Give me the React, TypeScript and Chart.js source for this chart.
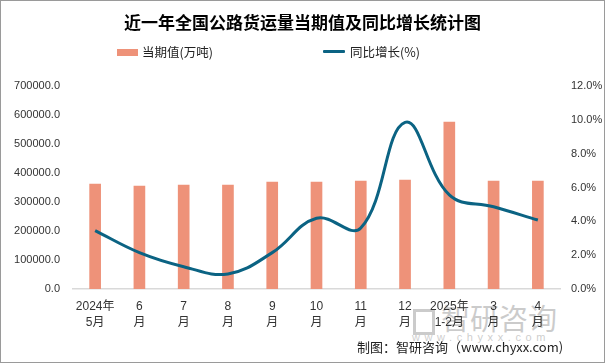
import React, { useEffect, useRef } from "react";
import { Chart, registerables } from "chart.js";

Chart.register(...registerables);

const categories: string[][] = [
  ["2024年", "5月"], ["6", "月"], ["7", "月"], ["8", "月"], ["9", "月"], ["10", "月"],
  ["11", "月"], ["12", "月"], ["2025年", "1-2月"], ["3", "月"], ["4", "月"],
];
const currentValues: number[] = [362000, 355200, 358600, 358600, 369000, 369000, 372400, 375900, 575900, 372400, 372400];
const growthValues: number[] = [3.45, 2.15, 1.32, 0.89, 2.15, 4.18, 3.6, 9.85, 5.56, 4.86, 4.08];
const leftTicks: number[] = [0, 100000, 200000, 300000, 400000, 500000, 600000, 700000];
const rightTicks: number[] = [0, 2, 4, 6, 8, 10, 12];

const TITLE = "近一年全国公路货运量当期值及同比增长统计图";
const BAR_LABEL = "当期值(万吨)";
const LINE_LABEL = "同比增长(%)";
const SOURCE = "制图：智研咨询（www.chyxx.com)";

const BAR_COLOR = "#EE9279";
const LINE_COLOR = "#0B6383";
const FONT = "'Liberation Sans', 'Noto Sans CJK SC', sans-serif";

export default function App() {
  const ref = useRef<HTMLCanvasElement | null>(null);

  useEffect(() => {
    document.body.style.margin = "0";
    const ctx = ref.current!;
    const chart = new Chart(ctx, {
      type: "bar",
      data: {
        labels: categories,
        datasets: [
          {
            type: "line",
            label: LINE_LABEL,
            data: growthValues,
            yAxisID: "y1",
            borderColor: LINE_COLOR,
            backgroundColor: LINE_COLOR,
            borderWidth: 3,
            pointRadius: 0,
            tension: 0.4,
            order: 0,
          },
          {
            type: "bar",
            label: BAR_LABEL,
            data: currentValues,
            yAxisID: "y",
            backgroundColor: BAR_COLOR,
            barThickness: 11,
            order: 1,
          },
        ],
      },
      options: {
        responsive: false,
        animation: false,
        layout: { padding: { top: 86, left: 0, right: 0, bottom: 0 } },
        plugins: { legend: { display: false }, title: { display: false }, tooltip: { enabled: false } },
        scales: {
          x: {
            grid: { display: false, drawTicks: false },
            border: { display: true, color: "#D9D9D9", width: 1.5 },
            ticks: {
              color: "#333333",
              font: { family: FONT, size: 12, lineHeight: "16px" } as any,
              padding: 10,
              maxRotation: 0,
              autoSkip: false,
            },
            afterFit: (s: any) => { s.height = 74; },
          },
          y: {
            position: "left",
            min: 0,
            max: 700000,
            afterBuildTicks: (s: any) => { s.ticks = leftTicks.map((v) => ({ value: v })); },
            grid: { display: false, drawTicks: false },
            border: { display: false },
            ticks: {
              color: "#333333",
              font: { family: FONT, size: 11 },
              padding: 13,
              callback: (v: any) => Number(v).toFixed(1),
            },
            afterFit: (s: any) => { s.width = 73; },
          },
          y1: {
            position: "right",
            min: 0,
            max: 12,
            afterBuildTicks: (s: any) => { s.ticks = rightTicks.map((v) => ({ value: v })); },
            grid: { display: false, drawTicks: false },
            border: { display: false },
            ticks: {
              color: "#333333",
              font: { family: FONT, size: 11 },
              padding: 11,
              callback: (v: any) => Number(v).toFixed(1) + "%",
            },
            afterFit: (s: any) => { s.width = 45; },
          },
        },
      },
    });
    return () => chart.destroy();
  }, []);

  return (
    <div style={{ position: "fixed", left: 0, top: 0, width: 605, height: 363, background: "#fff", fontFamily: FONT, overflow: "hidden" }}>
      <div style={{ position: "absolute", left: 413, top: 300, fontSize: 29, color: "#000", opacity: 0.2, whiteSpace: "nowrap", fontFamily: "'Noto Sans CJK SC', sans-serif", lineHeight: "34px" }}>
        <span style={{ display: "inline-block", width: 22, height: 26, border: "3px solid #000", marginRight: 6, verticalAlign: "middle", boxSizing: "border-box" }}></span>
        智研咨询
      </div>
      <div style={{ position: "absolute", left: 412, top: 331, fontSize: 11, letterSpacing: 4.6, color: "#000", opacity: 0.2, whiteSpace: "nowrap" }}>www.chyxx.com</div>
      <canvas ref={ref} width={605} height={363} style={{ position: "absolute", left: 0, top: 0 }} />
      <div style={{ position: "absolute", left: 0, top: 10, width: 605, textAlign: "center", fontSize: 17, fontWeight: "bold", color: "#000", fontFamily: "'Noto Sans CJK SC', sans-serif", lineHeight: "24px" }}>{TITLE}</div>
      <div style={{ position: "absolute", left: 117, top: 49, width: 21, height: 7, background: BAR_COLOR }} />
      <div style={{ position: "absolute", left: 142, top: 43, fontSize: 12.5, color: "#222", lineHeight: "18px", whiteSpace: "nowrap", fontFamily: "'Noto Sans CJK SC', sans-serif" }}>{BAR_LABEL}</div>
      <div style={{ position: "absolute", left: 323, top: 50, width: 22, height: 3, background: LINE_COLOR, borderRadius: 1 }} />
      <div style={{ position: "absolute", left: 350, top: 43, fontSize: 12.5, color: "#222", lineHeight: "18px", whiteSpace: "nowrap", fontFamily: "'Noto Sans CJK SC', sans-serif" }}>{LINE_LABEL}</div>
      <div style={{ position: "absolute", left: 357, top: 338, fontSize: 13, color: "#222", lineHeight: "18px", whiteSpace: "nowrap", fontFamily: "'Noto Sans CJK SC', sans-serif" }}>{SOURCE}</div>
      <div style={{ position: "absolute", left: 0, top: 0, width: 605, height: 363, border: "1px solid #9a9a9a", boxSizing: "border-box", pointerEvents: "none" }} />
    </div>
  );
}
